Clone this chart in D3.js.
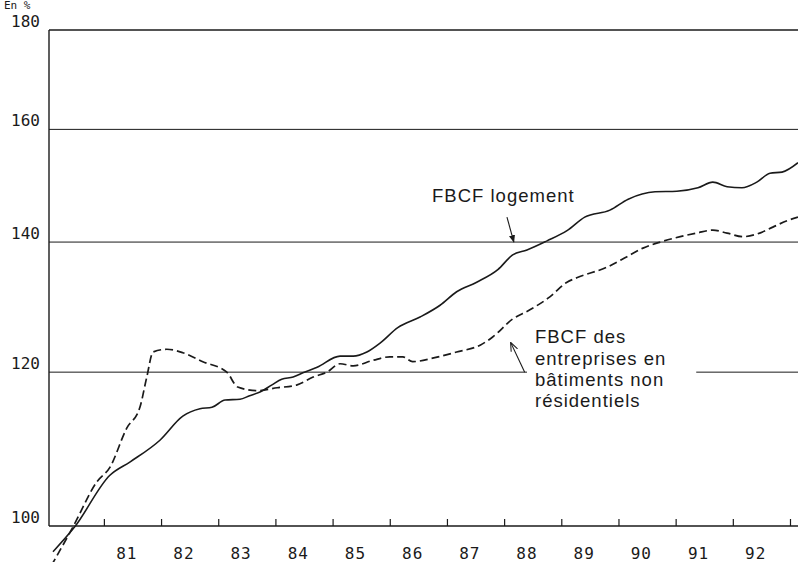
<!DOCTYPE html>
<html>
<head>
<meta charset="utf-8">
<script src="https://cdn.jsdelivr.net/npm/d3@7"></script>
<style>
body { margin: 0; background: #fff; }
</style>
</head>
<body>
<div id="vis"></div>
<script>
// index, 1980 = 100, log scale
const yTicks = [100, 120, 140, 160, 180];
const yearTicks = [1981, 1982, 1983, 1984, 1985, 1986, 1987, 1988, 1989, 1990, 1991, 1992, 1993];
const yearLabels = ["81", "82", "83", "84", "85", "86", "87", "88", "89", "90", "91", "92"];

// FBCF logement (solid)
const logementT = [1980.11, 1980.49, 1981.105, 1981.46, 1981.98, 1982.38, 1982.68, 1982.89, 1983.12, 1983.38,
	1983.55, 1983.73, 1983.94, 1984.11, 1984.31, 1984.48, 1984.73, 1985.13, 1985.36, 1985.60,
	1985.83, 1986.14, 1986.53, 1986.88, 1987.17, 1987.52, 1987.89, 1988.15, 1988.40, 1988.75,
	1989.10, 1989.41, 1989.85, 1990.17, 1990.64, 1991.02, 1991.39, 1991.65, 1991.90, 1992.16,
	1992.42, 1992.65, 1992.86, 1993.14];
const logementV = [97.0, 99.9, 106.2, 107.9, 110.7, 113.9, 114.9, 115.1, 116.1, 116.2,
	116.7, 117.2, 118.2, 119.0, 119.3, 119.9, 120.7, 122.3, 122.3, 122.9,
	124.2, 126.5, 128.1, 129.9, 132.0, 133.5, 135.5, 137.9, 138.7, 140.2,
	141.9, 144.2, 145.4, 147.3, 148.6, 148.7, 149.3, 150.3, 149.5, 149.3,
	150.3, 151.9, 152.1, 153.8];

// FBCF des entreprises en batiments non residentiels (dashed)
const entrepT = [1980.08, 1980.46, 1980.88, 1981.105, 1981.40, 1981.63, 1981.75, 1981.86, 1982.10, 1982.38,
	1982.73, 1983.15, 1983.34, 1983.68, 1984.03, 1984.38, 1984.66, 1984.90, 1985.13, 1985.36,
	1985.71, 1986.00, 1986.23, 1986.40, 1986.75, 1987.17, 1987.58, 1987.80, 1988.15, 1988.45,
	1988.80, 1989.10, 1989.27, 1989.80, 1990.15, 1990.43, 1990.73, 1991.08, 1991.37, 1991.65,
	1991.90, 1992.18, 1992.47, 1992.70, 1992.95, 1993.14];
const entrepV = [95.4, 99.9, 105.4, 107.2, 112.3, 115.1, 119.3, 122.9, 123.3, 122.8,
	121.5, 120.0, 117.9, 117.4, 117.8, 118.2, 119.3, 120.0, 121.2, 120.9,
	121.7, 122.2, 122.2, 121.5, 122.0, 122.9, 123.9, 125.1, 127.8, 129.2,
	131.2, 133.5, 134.2, 135.9, 137.6, 139.0, 140.0, 140.9, 141.5, 142.0,
	141.5, 140.9, 141.5, 142.5, 143.6, 144.2];

const W = 798, H = 562;
const svg = d3.select("#vis").append("svg")
	.attr("width", W)
	.attr("height", H);

const x = d3.scaleLinear().domain([1980.04, 1993.14]).range([49, 798]);
const y = d3.scaleLog().domain([100, 180]).range([526, 30]);

const ink = "#1a1a1a";
const tickFont = "'DejaVu Sans Mono', monospace";
const textFont = "'Liberation Sans', Arial, sans-serif";

// unit label at the very top
svg.append("text")
	.attr("x", 4)
	.attr("y", 9)
	.attr("font-family", tickFont)
	.attr("font-size", 11)
	.attr("fill", ink)
	.text("En %");

// horizontal rules
svg.append("g")
	.selectAll("line")
	.data(yTicks)
	.join("line")
	.attr("x1", x.range()[0])
	.attr("x2", W)
	.attr("y1", d => y(d))
	.attr("y2", d => y(d))
	.attr("stroke", ink)
	.attr("stroke-width", d => (d === 100 || d === 180) ? 1.4 : 1);

// left axis
svg.append("line")
	.attr("x1", x.range()[0]).attr("x2", x.range()[0])
	.attr("y1", y(180)).attr("y2", y(100))
	.attr("stroke", ink)
	.attr("stroke-width", 1.4);

// y labels
svg.append("g")
	.selectAll("text")
	.data(yTicks)
	.join("text")
	.attr("x", 40)
	.attr("y", d => y(d) - 3)
	.attr("text-anchor", "end")
	.attr("font-family", tickFont)
	.attr("font-size", 16)
	.attr("fill", ink)
	.text(d => d);

// year ticks, pointing inward
const xAxis = d3.axisBottom(x)
	.tickValues(yearTicks)
	.tickSize(-7)
	.tickFormat("");
const gx = svg.append("g")
	.attr("transform", `translate(0,${y(100)})`)
	.call(xAxis);
gx.select(".domain").remove();
gx.selectAll(".tick line").attr("stroke", ink).attr("stroke-width", 1.2);

// year labels, between ticks
svg.append("g")
	.selectAll("text")
	.data(yearLabels)
	.join("text")
	.attr("x", (d, i) => x(yearTicks[i] + 0.4))
	.attr("y", 559)
	.attr("text-anchor", "middle")
	.attr("font-family", tickFont)
	.attr("font-size", 16)
	.attr("letter-spacing", 1)
	.attr("fill", ink)
	.text(d => d);

const line = d3.line()
	.x(d => x(d[0]))
	.y(d => y(d[1]))
	.curve(d3.curveMonotoneX);

svg.append("path")
	.datum(d3.zip(logementT, logementV))
	.attr("d", line)
	.attr("fill", "none")
	.attr("stroke", ink)
	.attr("stroke-width", 1.6);

svg.append("path")
	.datum(d3.zip(entrepT, entrepV))
	.attr("d", line)
	.attr("fill", "none")
	.attr("stroke", ink)
	.attr("stroke-width", 1.7)
	.attr("stroke-dasharray", "8,4");

// annotations
const defs = svg.append("defs");
defs.append("marker")
	.attr("id", "headFilled")
	.attr("viewBox", "0 0 10 10")
	.attr("refX", 9).attr("refY", 5)
	.attr("markerWidth", 7).attr("markerHeight", 7)
	.attr("orient", "auto")
	.append("path")
	.attr("d", "M0,1L10,5L0,9Z")
	.attr("fill", ink);
defs.append("marker")
	.attr("id", "headOpen")
	.attr("viewBox", "0 0 10 10")
	.attr("refX", 9).attr("refY", 5)
	.attr("markerWidth", 8).attr("markerHeight", 8)
	.attr("orient", "auto")
	.append("path")
	.attr("d", "M0,1L10,5L0,9")
	.attr("fill", "none")
	.attr("stroke", ink)
	.attr("stroke-width", 1.2);

svg.append("text")
	.attr("x", x(1986.74))
	.attr("y", y(146.8))
	.attr("font-family", textFont)
	.attr("font-size", 18.5)
	.attr("letter-spacing", 1)
	.attr("fill", ink)
	.text("FBCF logement");

svg.append("line")
	.attr("x1", x(1988.05)).attr("y1", y(144.2))
	.attr("x2", x(1988.17)).attr("y2", y(140))
	.attr("stroke", ink)
	.attr("stroke-width", 1.1)
	.attr("marker-end", "url(#headFilled)");

const noteLines = ["FBCF des", "entreprises en", "bâtiments non", "résidentiels"];
const note = svg.append("g");
const noteText = note.append("text")
	.attr("x", x(1988.54))
	.attr("y", y(124.2))
	.attr("font-family", textFont)
	.attr("font-size", 18.5)
	.attr("letter-spacing", 1)
	.attr("fill", ink);
noteText.selectAll("tspan")
	.data(noteLines)
	.join("tspan")
	.attr("x", x(1988.54))
	.attr("dy", (d, i) => i === 0 ? 0 : 21.4)
	.text(d => d);

// break the 120 rule around the note
const bb = noteText.node().getBBox();
note.insert("rect", "text")
	.attr("x", bb.x - 8)
	.attr("y", y(120) - 3)
	.attr("width", bb.width + 38)
	.attr("height", 6)
	.attr("fill", "#fff");

svg.append("line")
	.attr("x1", x(1988.36)).attr("y1", y(120.0))
	.attr("x2", x(1988.12)).attr("y2", y(124.2))
	.attr("stroke", ink)
	.attr("stroke-width", 1.1)
	.attr("marker-end", "url(#headOpen)");
</script>
</body>
</html>
